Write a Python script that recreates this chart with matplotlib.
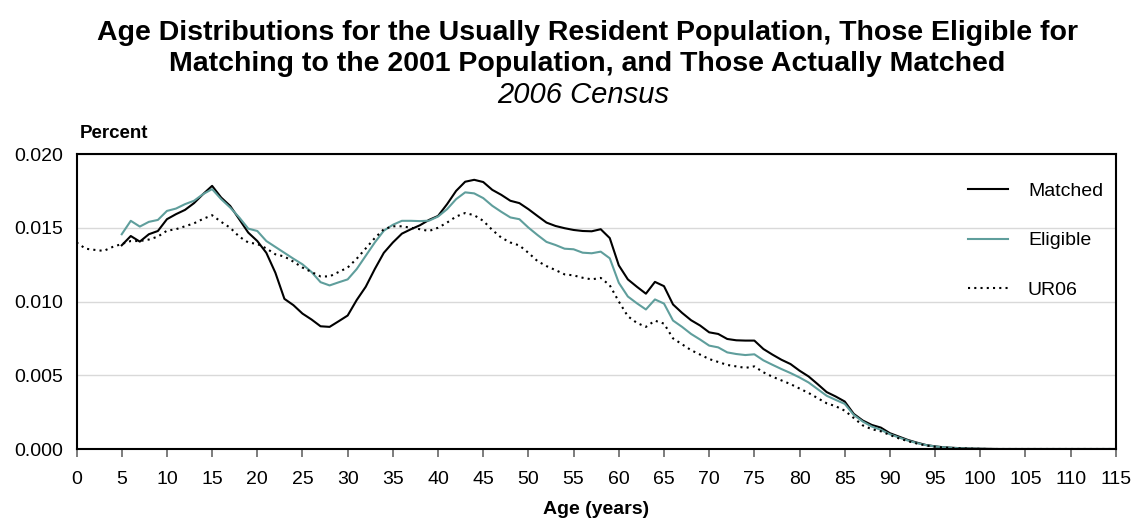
import matplotlib
matplotlib.use("Agg")
import matplotlib.pyplot as plt
from matplotlib.ticker import FormatStrFormatter
import numpy as np

plt.rcParams['font.family'] = ['Liberation Sans', 'DejaVu Sans']

# age distributions
ages_ur = list(range(0, 116))
ur06 = [0.0140, 0.01358, 0.0135, 0.01343, 0.0137, 0.0139, 0.0141, 0.0141, 0.0142, 0.0144,
        0.0148, 0.0149, 0.0151, 0.0153, 0.0156, 0.01585, 0.0154, 0.0150, 0.0144, 0.0140,
        0.0139, 0.0136, 0.0132, 0.01305, 0.0127, 0.0123, 0.0120, 0.0117, 0.0117, 0.0120,
        0.0123, 0.0129, 0.0136, 0.0143, 0.0149, 0.0151, 0.0151, 0.0150, 0.0149, 0.01478,
        0.0150, 0.01535, 0.01576, 0.0160, 0.01585, 0.01547, 0.01485, 0.01433, 0.0140, 0.0138,
        0.0133, 0.01274, 0.0124, 0.01213, 0.01184, 0.01177, 0.01161, 0.0115, 0.0116, 0.0111,
        0.0100, 0.0090, 0.00855, 0.00828, 0.0087, 0.0085, 0.0075, 0.0071, 0.0067, 0.0064,
        0.0061, 0.0059, 0.0057, 0.0056, 0.0055, 0.0056, 0.0052, 0.0049, 0.00465, 0.0044,
        0.0041, 0.0038, 0.00345, 0.0031, 0.0029, 0.0026, 0.0021, 0.0016, 0.00134, 0.0012,
        0.00095, 0.00072, 0.00053, 0.00037, 0.00024, 0.00015, 0.0001, 0.00006, 0.00004, 0.00002,
        0.00001, 0, 0, 0, 0, 0, 0, 0, 0, 0,
        0, 0, 0, 0, 0, 0]

ages_m = list(range(5, 116))
eligible = [0.01456, 0.01547, 0.01508, 0.0154, 0.01553,
            0.01614, 0.0163, 0.0166, 0.01683, 0.01728, 0.01762, 0.01694, 0.01637, 0.0157, 0.01494,
            0.01478, 0.0141, 0.0137, 0.0133, 0.0129, 0.01252, 0.0120, 0.01131, 0.01109, 0.0113,
            0.0115, 0.0122, 0.0131, 0.0140, 0.0148, 0.0152, 0.01547, 0.01547, 0.01545, 0.01548,
            0.01576, 0.01626, 0.01694, 0.0174, 0.01733, 0.01701, 0.01649, 0.01608, 0.0157, 0.01558,
            0.01501, 0.01451, 0.01404, 0.01383, 0.01358, 0.01354, 0.01331, 0.01327, 0.01338, 0.01293,
            0.01127, 0.01034, 0.00988, 0.00946, 0.01014, 0.00986, 0.00871, 0.00828, 0.0078, 0.00742,
            0.00701, 0.00689, 0.00655, 0.00644, 0.00637, 0.00642, 0.00601, 0.00571, 0.00542, 0.00515,
            0.00485, 0.00451, 0.00406, 0.00361, 0.00333, 0.00306, 0.00231, 0.00186, 0.00152, 0.0013,
            0.001, 0.00078, 0.00057, 0.0004, 0.00026, 0.00017, 0.00011, 0.00007, 0.00004, 0.00002,
            0.00001, 0, 0, 0, 0, 0, 0, 0, 0, 0,
            0, 0, 0, 0, 0, 0]
matched = [0.01381, 0.01444, 0.01406, 0.01456, 0.01478,
           0.01558, 0.01592, 0.01621, 0.01667, 0.01728, 0.01784, 0.01705, 0.01648, 0.01558, 0.01467,
           0.0141, 0.0133, 0.01195, 0.01018, 0.00975, 0.00918, 0.00878, 0.00832, 0.00828, 0.00866,
           0.00905, 0.0101, 0.0110, 0.0122, 0.0133, 0.0140, 0.0146, 0.0149, 0.01517, 0.01553,
           0.0158, 0.0166, 0.0175, 0.01812, 0.01825, 0.0181, 0.01757, 0.01723, 0.01683, 0.01667,
           0.01626, 0.0158, 0.01535, 0.01512, 0.01497, 0.01485, 0.01478, 0.01476, 0.0149, 0.0143,
           0.01245, 0.0115, 0.011, 0.01053, 0.01133, 0.01104, 0.0098, 0.00923, 0.00873, 0.00837,
           0.00791, 0.0078, 0.00746, 0.00737, 0.00735, 0.00735, 0.00678, 0.0064, 0.00605, 0.00576,
           0.00531, 0.00492, 0.0044, 0.00386, 0.00356, 0.00322, 0.00238, 0.00193, 0.00163, 0.00145,
           0.00107, 0.00084, 0.00061, 0.00043, 0.00027, 0.00018, 0.00011, 0.00008, 0.00005, 0.00003,
           0.00002, 0.00001, 0, 0, 0, 0, 0, 0, 0, 0,
           0, 0, 0, 0, 0, 0]

xticks = list(range(0, 120, 5))
yticks = [0.000, 0.005, 0.010, 0.015, 0.020]

fig = plt.figure(figsize=(11.34, 5.18), dpi=100)
ax = fig.add_axes([0.0675, 0.1332, 0.9165, 0.5695])

ax.plot(ages_m, matched, color='black', lw=1.5, label='Matched')
ax.plot(ages_m, eligible, color='#5f9e9c', lw=1.5, label='Eligible')
ax.plot(ages_ur, ur06, color='black', lw=1.5, linestyle=(0, (1, 2)), label='UR06')

ax.set_xlim(0, 115)
ax.set_ylim(0, 0.020)
ax.set_xticks(xticks)
ax.set_yticks(yticks)
ax.yaxis.set_major_formatter(FormatStrFormatter('%.3f'))
ax.tick_params(axis='x', direction='out', length=5.5, width=1.2, color='#666666',
               labelsize=14, pad=10)
ax.tick_params(axis='y', length=0, labelsize=14, pad=10)
ax.grid(axis='y', color='#d9d9d9', lw=1)
ax.set_axisbelow(True)
for s in ax.spines.values():
    s.set_linewidth(1.5)
    s.set_color('black')

ax.set_xlabel('Age (years)', fontsize=14, fontweight='bold', labelpad=9.5)
ax.text(0.0034, 1.068, 'Percent', transform=ax.transAxes, fontsize=13.5,
        fontweight='bold', ha='left', va='center')

ax.legend(loc='upper left', bbox_to_anchor=(0.8576, 0.905), frameon=False,
          fontsize=14, labelspacing=1.65, handlelength=2.06, handletextpad=1.03,
          borderpad=0, borderaxespad=0)

fig.text(0.518, 0.936, 'Age Distributions for the Usually Resident Population, Those Eligible for',
         ha='center', va='center', fontsize=20.5, fontweight='bold')
fig.text(0.518, 0.876, 'Matching to the 2001 Population, and Those Actually Matched',
         ha='center', va='center', fontsize=20.5, fontweight='bold')
fig.text(0.514, 0.8165, '2006 Census', ha='center', va='center', fontsize=21, style='italic')

fig.savefig('out.png', dpi=100)
